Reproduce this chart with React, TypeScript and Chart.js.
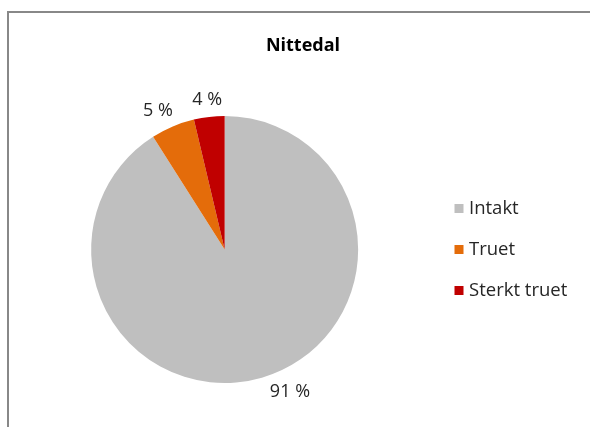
import React, { useEffect, useRef } from "react";
import { Chart, registerables } from "chart.js";

Chart.register(...registerables);

const chartTitle = "Nittedal";
const categories = ["Intakt", "Truet", "Sterkt truet"];
const shares = [91.0, 5.3, 3.7];
const sliceColors = ["#BFBFBF", "#E46C0A", "#C00000"];

const FONT = '"Open Sans", "Noto Sans", sans-serif';
const TEXT_COLOR = "#262626";

export default function App() {
  const ref = useRef<HTMLCanvasElement>(null);

  useEffect(() => {
    const canvas = ref.current;
    if (!canvas) return;

    const decor = {
      id: "decor",
      beforeDraw(chart: any) {
        const ctx = chart.ctx;
        ctx.save();
        ctx.fillStyle = "#ffffff";
        ctx.fillRect(0, 0, chart.width, chart.height);
        ctx.strokeStyle = "#888888";
        ctx.lineWidth = 2;
        ctx.beginPath();
        ctx.moveTo(8, chart.height);
        ctx.lineTo(8, 12);
        ctx.lineTo(chart.width, 12);
        ctx.stroke();
        ctx.restore();
      },
      afterDraw(chart: any) {
        const ctx = chart.ctx;
        ctx.save();
        // title
        ctx.fillStyle = "#000000";
        ctx.font = `bold 18px ${FONT}`;
        ctx.textAlign = "center";
        ctx.textBaseline = "middle";
        ctx.fillText(chartTitle, 303, 46);

        // data labels
        const meta = chart.getDatasetMeta(0);
        const data = chart.data.datasets[0].data as number[];
        const total = data.reduce((a, b) => a + b, 0);
        const nudges = [-8.5, -2.8, 0];
        ctx.font = `18px ${FONT}`;
        ctx.fillStyle = TEXT_COLOR;
        meta.data.forEach((el: any, i: number) => {
          const p = el.getProps(["x", "y", "startAngle", "endAngle", "outerRadius"], true);
          const ang = (p.startAngle + p.endAngle) / 2 + (nudges[i] * Math.PI) / 180;
          const txt = `${Math.round((data[i] / total) * 100)} %`;
          const w = ctx.measureText(txt).width;
          const h = 14;
          const c = Math.cos(ang);
          const s = Math.sin(ang);
          const ext = Math.abs(c) * (w / 2) + Math.abs(s) * (h / 2);
          const d = p.outerRadius + 8 + ext;
          ctx.fillText(txt, p.x + c * d, p.y + s * d);
        });

        // legend
        const labels = chart.data.labels as string[];
        const bg = chart.data.datasets[0].backgroundColor as string[];
        ctx.textAlign = "left";
        ctx.font = `18.5px ${FONT}`;
        labels.forEach((lab, i) => {
          const cy = 208.5 + i * 41;
          ctx.fillStyle = bg[i];
          ctx.fillRect(454.5, cy - 4.5, 9, 9);
          ctx.fillStyle = TEXT_COLOR;
          ctx.fillText(lab, 469, cy);
        });
        ctx.restore();
      },
    };

    const chart = new Chart(canvas, {
      type: "pie",
      data: {
        labels: categories,
        datasets: [
          {
            data: shares,
            backgroundColor: sliceColors,
            borderWidth: 0,
          },
        ],
      },
      options: {
        responsive: false,
        animation: false,
        layout: {
          padding: { left: 91, top: 116, right: 231.7, bottom: 44 },
        },
        plugins: {
          legend: { display: false },
          tooltip: { enabled: false },
          title: { display: false },
        },
      },
      plugins: [decor],
    });

    return () => chart.destroy();
  }, []);

  return (
    <div style={{ position: "absolute", left: 0, top: 0, width: 590, height: 427, background: "#fff" }}>
      <canvas ref={ref} width={590} height={427} style={{ display: "block" }} />
    </div>
  );
}
